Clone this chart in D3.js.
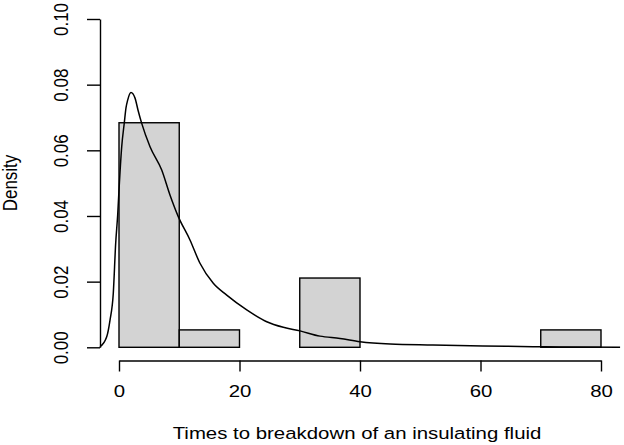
<!DOCTYPE html>
<html>
<head>
<meta charset="utf-8">
<script src="https://cdn.jsdelivr.net/npm/d3@7"></script>
<style>
  body { margin: 0; background: #fff; }
  text { font-family: "Liberation Sans", Arial, sans-serif; font-size: 17px; fill: #000; }
</style>
</head>
<body>
<div id="chart"></div>
<script>
// histogram bins (density scale)
const breaks = [0, 10, 20, 30, 40, 50, 60, 70, 80];
const densities = [0.0684, 0.0053, 0, 0.0211, 0, 0, 0, 0.0053];

// density curve, read point by point
const curveX = [-3.4, -3.15, -2.04, -1.49, -0.95, -0.55, -0.22, 0, 0.45, 0.88, 1.16, 1.44, 1.99,
                2.66, 3.15, 3.77, 5.15, 7.09, 8.46, 9.84, 11.78, 13.44, 15.65, 17.88, 21.2,
                24.52, 27.27, 30.04, 33.36, 36.68, 40, 45, 52.1, 60.4, 68.7, 73.2, 83.2];
const curveY = [0, 0.0002, 0.0032, 0.0083, 0.0164, 0.0317, 0.0403, 0.0479, 0.0611, 0.0684, 0.0729, 0.0753, 0.0776,
                0.0759, 0.0723, 0.0682, 0.0611, 0.054, 0.0464, 0.0398, 0.0327, 0.0256, 0.0195, 0.0159, 0.0114,
                0.0078, 0.0061, 0.005, 0.0034, 0.0027, 0.0017, 0.001, 0.0007, 0.0004, 0.0002, 0.0001, 0];

const xTicks = [0, 20, 40, 60, 80];
const yTicks = [0, 0.02, 0.04, 0.06, 0.08, 0.10];
const xTitle = "Times to breakdown of an insulating fluid";
const yTitle = "Density";

const W = 624, H = 445;
const sx = 1.2; // picture is stretched sideways

const x = d3.scaleLinear().domain([0, 80]).range([119, 601]);
const y = d3.scaleLinear().domain([0, 0.1]).range([347.3, 19]);

const svg = d3.select("#chart").append("svg")
    .attr("width", W)
    .attr("height", H);

// plot region clip (R clips lines to usr)
svg.append("defs").append("clipPath").attr("id", "plotclip")
    .append("rect")
    .attr("x", x(-3.2)).attr("y", y(0.104))
    .attr("width", x(83.2) - x(-3.2))
    .attr("height", y(-0.004) - y(0.104));

const bins = densities.map((d, i) => ({x0: breaks[i], x1: breaks[i + 1], d: d}));

svg.append("g").selectAll("rect")
    .data(bins)
    .enter().append("rect")
    .attr("x", d => x(d.x0))
    .attr("y", d => y(d.d))
    .attr("width", d => x(d.x1) - x(d.x0))
    .attr("height", d => y(0) - y(d.d))
    .attr("fill", "#d3d3d3")
    .attr("stroke", "#000")
    .attr("stroke-width", 1.4);

const pts = curveX.map((v, i) => [v, curveY[i]]);
const line = d3.line()
    .x(d => x(d[0]))
    .y(d => y(d[1]))
    .curve(d3.curveMonotoneX);

svg.append("path")
    .datum(pts)
    .attr("clip-path", "url(#plotclip)")
    .attr("d", line)
    .attr("fill", "none")
    .attr("stroke", "#000")
    .attr("stroke-width", 1.5);

// x axis
const gx = svg.append("g")
    .attr("transform", "translate(0,360.5)")
    .call(d3.axisBottom(x).tickValues(xTicks).tickSize(11).tickSizeOuter(0).tickFormat(d3.format("d")));
gx.selectAll("text")
    .attr("y", 37).attr("dy", 0)
    .attr("transform", `scale(${sx},1)`)
    .style("font-size", "17px");

// y axis
const gy = svg.append("g")
    .attr("transform", "translate(100,0)")
    .call(d3.axisLeft(y).tickValues(yTicks).tickSize(13).tickSizeOuter(0).tickFormat(d3.format(".2f")));
gy.selectAll("text")
    .attr("x", 0).attr("dy", 0)
    .attr("text-anchor", "middle")
    .attr("transform", `translate(-32,0) scale(${sx},1) rotate(-90)`)
    .style("font-size", "17px");

svg.selectAll(".domain, .tick line")
    .attr("stroke", "#000")
    .attr("stroke-width", 1.4);

// titles
svg.append("text")
    .attr("transform", `translate(357,438.5) scale(${sx},1)`)
    .attr("text-anchor", "middle")
    .text(xTitle);

svg.append("text")
    .attr("transform", `translate(17,183) scale(${sx},1) rotate(-90)`)
    .attr("text-anchor", "middle")
    .text(yTitle);
</script>
</body>
</html>
